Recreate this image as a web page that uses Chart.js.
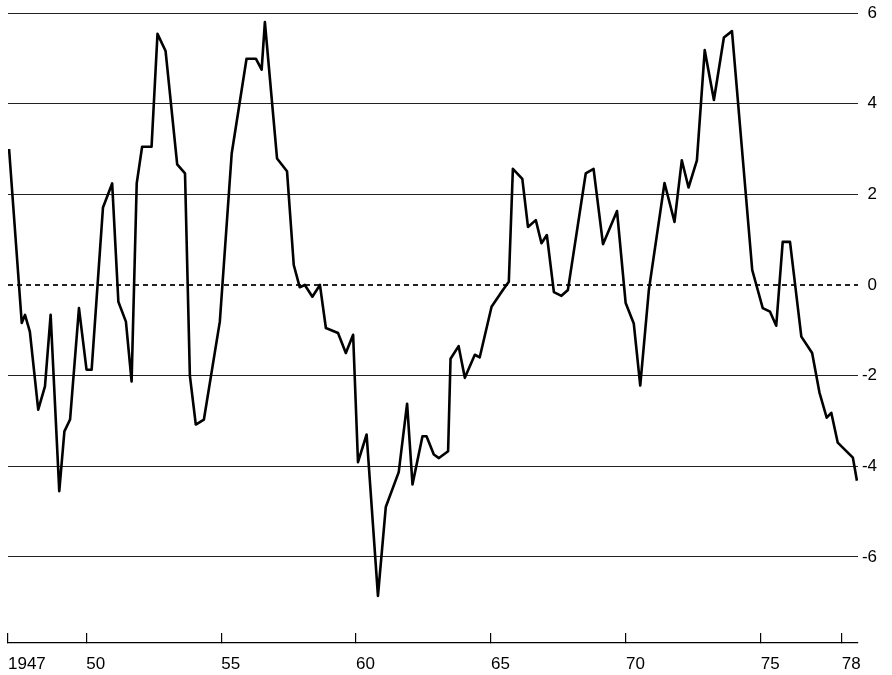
<!DOCTYPE html>
<html>
<head>
<meta charset="utf-8">
<script src="https://cdn.jsdelivr.net/npm/chart.js@4.4.1/dist/chart.umd.min.js"></script>
<style>
    html, body { margin: 0; padding: 0; background: #fff; }
    #wrap { width: 892px; height: 675px; }
</style>
</head>
<body>
<div id="wrap"><canvas id="grafico"></canvas></div>
<script>
// vertices (year as decimal, value)
const years = [
    1947.14, 1947.61, 1947.73, 1947.91, 1948.22, 1948.47, 1948.68, 1949.00, 1949.19, 1949.40,
    1949.73, 1950.01, 1950.20, 1950.62, 1950.96, 1951.19, 1951.47, 1951.68, 1951.87, 1952.07,
    1952.42, 1952.64, 1952.94, 1953.37, 1953.66, 1953.84, 1954.06, 1954.36, 1954.95, 1955.39,
    1955.94, 1956.29, 1956.50, 1956.62, 1957.07, 1957.44, 1957.69, 1957.91, 1958.10, 1958.38,
    1958.66, 1958.88, 1959.33, 1959.62, 1959.89, 1960.07, 1960.39, 1960.81, 1961.10, 1961.58,
    1961.89, 1962.09, 1962.46, 1962.61, 1962.88, 1963.07, 1963.41, 1963.50, 1963.80, 1964.03,
    1964.40, 1964.58, 1965.02, 1965.44, 1965.66, 1965.81, 1966.16, 1966.37, 1966.66, 1966.87,
    1967.07, 1967.33, 1967.61, 1967.85, 1968.51, 1968.80, 1969.15, 1969.67, 1969.99, 1970.29,
    1970.53, 1970.85, 1971.43, 1971.80, 1972.07, 1972.32, 1972.63, 1972.92, 1973.26, 1973.63,
    1973.93, 1974.68, 1975.07, 1975.34, 1975.57, 1975.81, 1976.08, 1976.50, 1976.90, 1977.17,
    1977.44, 1977.61, 1977.85, 1978.41, 1978.56
];
const values = [
    3.00, -0.84, -0.66, -1.03, -2.75, -2.24, -0.66, -4.55, -3.23, -2.97,
    -0.51, -1.87, -1.87, 1.71, 2.24, -0.37, -0.81, -2.13, 2.24, 3.05,
    3.05, 5.54, 5.16, 2.66, 2.46, -2.00, -3.08, -2.97, -0.81, 2.90,
    4.99, 4.99, 4.75, 5.80, 2.79, 2.51, 0.44, -0.05, 0.00, -0.26,
    0.00, -0.95, -1.06, -1.50, -1.10, -3.91, -3.30, -6.86, -4.90, -4.13,
    -2.62, -4.40, -3.34, -3.34, -3.74, -3.82, -3.67, -1.63, -1.35, -2.05,
    -1.54, -1.60, -0.48, -0.11, 0.07, 2.56, 2.34, 1.28, 1.43, 0.92,
    1.10, -0.16, -0.24, -0.11, 2.46, 2.56, 0.90, 1.63, -0.40, -0.85,
    -2.22, -0.11, 2.25, 1.39, 2.75, 2.15, 2.75, 5.18, 4.08, 5.46,
    5.60, 0.33, -0.51, -0.59, -0.90, 0.95, 0.95, -1.14, -1.50, -2.37,
    -2.93, -2.82, -3.48, -3.81, -4.32
];

// axis ticks
const xTickYears = [1947, 1950, 1955, 1960, 1965, 1970, 1975, 1978];
const xTickLabels = ['1947', '50', '55', '60', '65', '70', '75', '78'];
const yTicks = [6, 4, 2, 0, -2, -4, -6];

const xMin = 1947.1;
const xMax = 1978.6;

const pontos = years.map((ano, i) => ({ x: ano, y: values[i] }));

const fonte = { family: "'Liberation Sans', Arial, sans-serif", size: 17 };

const ctx = document.getElementById('grafico').getContext('2d');

const myChart = new Chart(ctx, {
    type: 'line',
    data: {
        datasets: [{
            data: pontos,
            borderColor: '#000',
            borderWidth: 2.6,
            borderJoinStyle: 'round',
            pointRadius: 0,
            tension: 0,
            fill: false
        }]
    },
    options: {
        responsive: true,
        maintainAspectRatio: false,
        animation: false,
        devicePixelRatio: 1,
        layout: { padding: { top: 13, left: 8, right: 15, bottom: 2 } },
        plugins: {
            legend: { display: false },
            tooltip: { enabled: false }
        },
        scales: {
            x: {
                type: 'linear',
                min: xMin,
                max: xMax,
                afterBuildTicks: (scale) => {
                    scale.ticks = xTickYears.map(v => ({ value: Math.max(v, xMin) }));
                },
                afterFit: (scale) => {
                    scale.height = 30;
                    scale.paddingLeft = 0;
                    scale.paddingRight = 0;
                },
                grid: {
                    drawOnChartArea: false,
                    drawTicks: true,
                    tickLength: -10,
                    color: '#000',
                    lineWidth: 1.2
                },
                border: { display: true, color: '#000', width: 1.2 },
                ticks: {
                    autoSkip: false,
                    maxRotation: 0,
                    align: 'start',
                    padding: 21,
                    color: '#000',
                    font: fonte,
                    callback: function(value, index) {
                        return xTickLabels[index];
                    }
                }
            },
            y: {
                position: 'right',
                min: -7.9,
                max: 6,
                afterBuildTicks: (scale) => {
                    scale.ticks = yTicks.map(v => ({ value: v }));
                },
                afterFit: (scale) => {
                    scale.width = 19;
                    scale.paddingTop = 0;
                    scale.paddingBottom = 0;
                },
                grid: {
                    drawTicks: false,
                    color: '#222',
                    lineWidth: (c) => (c.tick && c.tick.value === 0 ? 2 : 1)
                },
                border: {
                    display: false,
                    dash: (c) => (c.tick && c.tick.value === 0 ? [5, 4] : [])
                },
                ticks: {
                    crossAlign: 'far',
                    padding: 0,
                    color: '#000',
                    font: fonte,
                    callback: function(value) {
                        return String(value);
                    }
                }
            }
        }
    }
});
</script>
</body>
</html>
